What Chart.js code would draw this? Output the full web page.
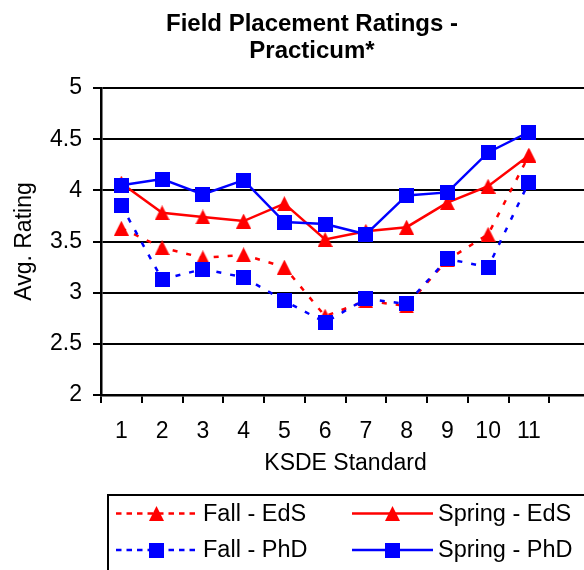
<!DOCTYPE html>
<html>
<head>
<meta charset="utf-8">
<script src="https://cdn.jsdelivr.net/npm/chart.js@4/dist/chart.umd.min.js"></script>
<style>
  html, body { margin: 0; padding: 0; background: #fff; overflow: hidden; }
  #wrap { width: 584px; height: 570px; overflow: hidden; position: relative; }
  canvas { display: block; }
</style>
</head>
<body>
<div id="wrap"><canvas id="c" width="600" height="570"></canvas></div>
<script>
const categories = ['1','2','3','4','5','6','7','8','9','10','11',''];
const fallEdS   = [3.63, 3.44, 3.34, 3.37, 3.25, 2.77, 2.92, 2.87, 3.32, 3.57, 4.34];
const springEdS = [4.07, 3.78, 3.74, 3.70, 3.87, 3.52, 3.60, 3.64, 3.88, 4.04, 4.34];
const fallPhD   = [3.85, 3.13, 3.23, 3.15, 2.92, 2.71, 2.94, 2.89, 3.33, 3.25, 4.08];
const springPhD = [4.05, 4.11, 3.96, 4.10, 3.69, 3.67, 3.57, 3.95, 3.98, 4.37, 4.57];
const yTicks = [2, 2.5, 3, 3.5, 4, 4.5, 5];

const FONT = "'Liberation Sans', Arial, sans-serif";
const RED = '#ff0000', BLUE = '#0000ff';
const PLOT_DASH = [5, 9];
const LEGEND_DASH = [5.5, 5];

function makeMarker(kind, color) {
  const c = document.createElement('canvas');
  c.width = 15; c.height = 15;
  const g = c.getContext('2d');
  g.fillStyle = color;
  if (kind === 'tri') {
    g.beginPath(); g.moveTo(7.5, 0); g.lineTo(15, 15); g.lineTo(0, 15); g.closePath(); g.fill();
  } else {
    g.fillRect(0, 0, 15, 15);
  }
  return c;
}
const triRed = makeMarker('tri', RED);
const sqBlue = makeMarker('sq', BLUE);

const series = [
  { label: 'Fall - EdS',   data: fallEdS,   color: RED,  dashed: true,  marker: triRed, order: 3 },
  { label: 'Spring - EdS', data: springEdS, color: RED,  dashed: false, marker: triRed, order: 2 },
  { label: 'Fall - PhD',   data: fallPhD,   color: BLUE, dashed: true,  marker: sqBlue, order: 1 },
  { label: 'Spring - PhD', data: springPhD, color: BLUE, dashed: false, marker: sqBlue, order: 0 }
];

const titlePlugin = {
  id: 'customTitle',
  afterDraw(chart) {
    const ctx = chart.ctx;
    ctx.save();
    ctx.fillStyle = '#000';
    ctx.font = 'bold 24px ' + FONT;
    ctx.textAlign = 'center';
    ctx.textBaseline = 'alphabetic';
    ctx.fillText('Field Placement Ratings -', 312, 30.5);
    ctx.fillText('Practicum*', 312, 57.5);
    ctx.restore();
  }
};

const legendPlugin = {
  id: 'customLegend',
  afterDraw(chart) {
    const ctx = chart.ctx;
    ctx.save();
    ctx.strokeStyle = '#000';
    ctx.lineWidth = 2;
    ctx.strokeRect(108, 495, 600, 200);
    const pos = [
      { x0: 116, x1: 197, mx: 156.5, tx: 203, y: 513.5 },
      { x0: 352, x1: 433, mx: 392.5, tx: 438, y: 513.5 },
      { x0: 116, x1: 197, mx: 156.5, tx: 203, y: 550 },
      { x0: 352, x1: 433, mx: 392.5, tx: 438, y: 550 }
    ];
    series.forEach((s, i) => {
      const p = pos[i];
      ctx.strokeStyle = s.color;
      ctx.lineWidth = 2.5;
      ctx.setLineDash(s.dashed ? LEGEND_DASH : []);
      ctx.beginPath(); ctx.moveTo(p.x0, p.y); ctx.lineTo(p.x1, p.y); ctx.stroke();
      ctx.setLineDash([]);
      ctx.drawImage(s.marker, p.mx - 7.5, p.y - 7.5);
      ctx.fillStyle = '#000';
      ctx.font = '23.5px ' + FONT;
      ctx.textAlign = 'left';
      ctx.textBaseline = 'middle';
      ctx.fillText(s.label, p.tx, p.y + 1);
    });
    ctx.restore();
  }
};

new Chart(document.getElementById('c'), {
  type: 'line',
  data: {
    labels: categories,
    datasets: series.map(s => ({
      label: s.label,
      data: s.data,
      borderColor: s.color,
      backgroundColor: s.color,
      borderWidth: 2.5,
      borderDash: s.dashed ? PLOT_DASH : [],
      pointStyle: s.marker,
      pointRadius: 7.5,
      pointHoverRadius: 7.5,
      tension: 0,
      fill: false,
      order: s.order
    }))
  },
  options: {
    responsive: false,
    animation: false,
    events: [],
    layout: { padding: { top: 88, left: 0, right: 0, bottom: 93 } },
    plugins: { legend: { display: false }, title: { display: false }, tooltip: { enabled: false } },
    scales: {
      x: {
        type: 'category',
        offset: true,
        grid: { display: true, offset: true, drawOnChartArea: false, drawTicks: true, tickLength: 8, color: '#000', lineWidth: 2 },
        border: { display: true, color: '#000', width: 2.5 },
        ticks: { color: '#000', font: { family: FONT, size: 23 }, padding: 15, maxRotation: 0, autoSkip: false },
        title: { display: true, text: 'KSDE Standard', color: '#000', font: { family: FONT, size: 23 }, padding: { top: 0, bottom: 0 } },
        afterFit(scale) { scale.height = 82; scale.paddingLeft = 0; scale.paddingRight = 0; }
      },
      y: {
        min: 2, max: 5,
        afterBuildTicks(scale) { scale.ticks = yTicks.map(v => ({ value: v })); },
        grid: { display: true, drawTicks: true, tickLength: 8, color: '#000', lineWidth: 2 },
        border: { display: true, color: '#000', width: 2.5 },
        ticks: { color: '#000', font: { family: FONT, size: 23 }, padding: 11, callback: v => String(v) },
        title: { display: true, text: 'Avg. Rating', color: '#000', font: { family: FONT, size: 23 }, padding: { top: 11, bottom: 0 } },
        afterFit(scale) { scale.width = 101; scale.paddingTop = 0; scale.paddingBottom = 0; }
      }
    }
  },
  plugins: [titlePlugin, legendPlugin]
});
</script>
</body>
</html>
